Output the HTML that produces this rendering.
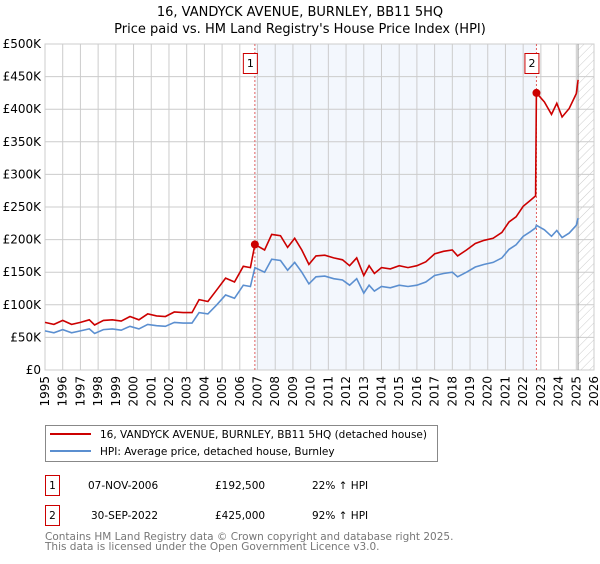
<!DOCTYPE html>
<html><head><meta charset="utf-8"><style>
body{margin:0;background:#fff;width:600px;height:560px;overflow:hidden;font-family:"DejaVu Sans","Liberation Sans",sans-serif;}
svg text{font-family:"DejaVu Sans","Liberation Sans",sans-serif;}
</style></head><body>
<svg id="chart" width="600" height="560" xmlns="http://www.w3.org/2000/svg">
<text x="300" y="16" text-anchor="middle" font-size="13">16, VANDYCK AVENUE, BURNLEY, BB11 5HQ</text>
<text x="300" y="33" text-anchor="middle" font-size="13">Price paid vs. HM Land Registry's House Price Index (HPI)</text>
<defs><pattern id="hatch" width="6" height="6" patternUnits="userSpaceOnUse" patternTransform="rotate(45)"><line x1="0" y1="0" x2="0" y2="6" stroke="#ccc" stroke-width="1"/></pattern></defs>
<g id="plot"></g>
<rect x="45.5" y="425.5" width="392" height="36" fill="#fff" stroke="#888"/>
<line x1="50" y1="434" x2="91" y2="434" stroke="#cc0000" stroke-width="2"/>
<text x="100" y="438" font-size="10.5">16, VANDYCK AVENUE, BURNLEY, BB11 5HQ (detached house)</text>
<line x1="50" y1="451" x2="91" y2="451" stroke="#5b8fd0" stroke-width="2"/>
<text x="100" y="455" font-size="10.5">HPI: Average price, detached house, Burnley</text>
<g font-size="10.5">
<rect x="45.5" y="475.5" width="14" height="20" fill="#fff" stroke="#cc0000"/><text x="52.5" y="489" text-anchor="middle">1</text>
<text x="88" y="489">07-NOV-2006</text><text x="215" y="489">£192,500</text><text x="312" y="489">22% ↑ HPI</text></g>
<g font-size="10.5">
<rect x="45.5" y="505.5" width="14" height="20" fill="#fff" stroke="#cc0000"/><text x="52.5" y="519" text-anchor="middle">2</text>
<text x="91" y="519">30-SEP-2022</text><text x="215" y="519">£425,000</text><text x="312" y="519">92% ↑ HPI</text></g>
<text x="45" y="540" font-size="10.5" fill="#777">Contains HM Land Registry data © Crown copyright and database right 2025.</text>
<text x="45" y="550" font-size="10.5" fill="#777">This data is licensed under the Open Government Licence v3.0.</text>
</svg>
<script>
const years=[1995.0,1995.5,1996.0,1996.5,1997.0,1997.5,1997.8,1998.3,1998.8,1999.3,1999.8,2000.3,2000.8,2001.3,2001.8,2002.3,2002.8,2003.3,2003.7,2004.2,2004.7,2005.2,2005.7,2006.2,2006.6,2006.85,2007.4,2007.8,2008.3,2008.7,2009.1,2009.5,2009.9,2010.3,2010.8,2011.3,2011.8,2012.2,2012.6,2013.0,2013.3,2013.6,2014.0,2014.5,2015.0,2015.5,2016.0,2016.5,2017.0,2017.5,2018.0,2018.3,2018.8,2019.3,2019.8,2020.3,2020.8,2021.2,2021.6,2022.0,2022.4,2022.7,2022.75,2023.2,2023.6,2023.9,2024.2,2024.6,2025.0,2025.1];
const hpi=[60,57,62,57,60,63,56,62,63,61,67,63,70,68,67,73,72,72,88,86,100,115,110,130,128,157,150,170,168,153,165,150,132,143,144,140,138,130,140,118,130,121,128,126,130,128,130,135,145,148,150,143,150,158,162,165,172,185,192,205,212,218,222,215,205,214,203,210,222,233];
const paid=[73,70,76,70,73,77,69,76,77,75,82,77,86,83,82,89,88,88,108,105,123,141,135,159,157,192.5,184,208,206,188,202,184,162,175,176,172,169,160,172,145,160,148,157,155,160,157,160,166,178,182,184,175,184,194,199,202,211,227,235,251,260,267,425,411,392,409,388,401,424,445];
const yTicks=[0,50,100,150,200,250,300,350,400,450,500];
const yLabels=["£0","£50K","£100K","£150K","£200K","£250K","£300K","£350K","£400K","£450K","£500K"];
const xTicks=[1995,1996,1997,1998,1999,2000,2001,2002,2003,2004,2005,2006,2007,2008,2009,2010,2011,2012,2013,2014,2015,2016,2017,2018,2019,2020,2021,2022,2023,2024,2025,2026];
const sales=[{n:"1",year:2006.85,val:192.5},{n:"2",year:2022.75,val:425}];
const X0=45,X1=594,Y0=370,Y1=44;
const xs=y=>X0+(y-1995)/31*(X1-X0);
const ys=v=>Y0-v/500*(Y0-Y1);
const NS="http://www.w3.org/2000/svg";
const g=document.getElementById('plot');
function mk(t,a,p){const e=document.createElementNS(NS,t);for(const k in a)e.setAttribute(k,a[k]);(p||g).appendChild(e);return e;}
let e=mk('rect',{x:xs(sales[0].year),y:Y1,width:xs(sales[1].year)-xs(sales[0].year),height:Y0-Y1,fill:'#eef3fc',opacity:0.7});


e=mk('rect',{x:xs(2025.1),y:Y1,width:X1-xs(2025.1),height:Y0-Y1,fill:'url(#hatch)'});


yTicks.forEach((v,i)=>{
 mk('line',{x1:X0,x2:X1,y1:ys(v),y2:ys(v),stroke:'#ccc'});
 const t=mk('text',{x:X0-4,y:ys(v)+4,'text-anchor':'end','font-size':12});t.textContent=yLabels[i];
 
 
});
xTicks.forEach(y=>{
 mk('line',{x1:xs(y),x2:xs(y),y1:Y1,y2:Y0,stroke:'#ccc'});
 const t=mk('text',{x:0,y:0,'text-anchor':'end','font-size':12,transform:`translate(${xs(y)+4},${Y0+6}) rotate(-90)`});t.textContent=y;
 
 
});
mk('rect',{x:X0,y:Y1,width:X1-X0,height:Y0-Y1,fill:'none',stroke:'#ccc'});
mk('line',{x1:xs(2025.1),x2:xs(2025.1),y1:Y1,y2:Y0,stroke:'#999'});
sales.forEach(s=>{
 const l=mk('line',{x1:xs(s.year),x2:xs(s.year),y1:Y1,y2:Y0,stroke:'#e06060','stroke-dasharray':'2,2'});
 
 
});
const pts=a=>a.map((v,i)=>xs(years[i]).toFixed(1)+','+ys(v).toFixed(1)).join(' ');
e=mk('polyline',{points:pts(hpi),fill:'none',stroke:'#5b8fd0','stroke-width':1.6});


e=mk('polyline',{points:pts(paid),fill:'none',stroke:'#cc0000','stroke-width':1.6});


sales.forEach(s=>{
 const c=mk('circle',{cx:xs(s.year),cy:ys(s.val),r:4,fill:'#cc0000'});
 
 
 const b=mk('rect',{x:xs(s.year)-11.5,y:53.5,width:14,height:20,fill:'#fff',stroke:'#cc0000'});
 
 
 const t=mk('text',{x:xs(s.year)-4.5,y:67,'text-anchor':'middle','font-size':11});t.textContent=s.n;
 
 
});
</script>
</body></html>
